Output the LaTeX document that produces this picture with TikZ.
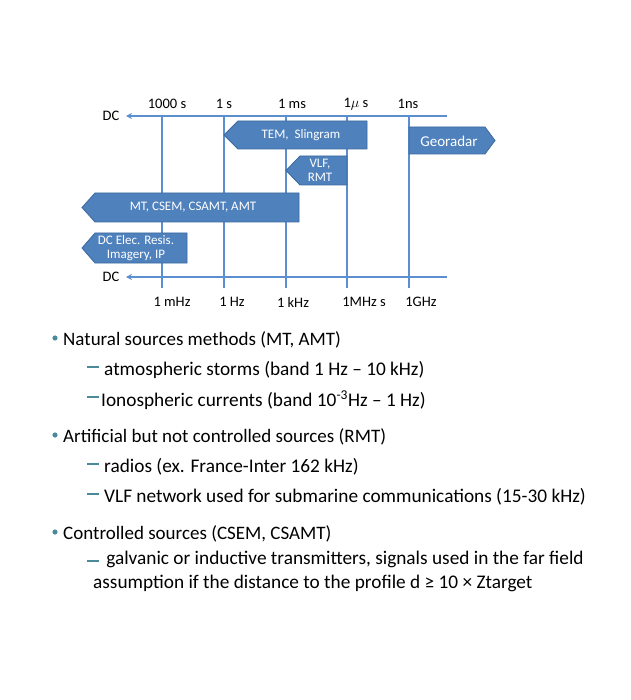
\documentclass[tikz,border=0pt]{standalone}
\usepackage{fontspec}
\setmainfont{Carlito}
\usetikzlibrary{arrows.meta}
\definecolor{ax}{HTML}{5B8FCF}
\definecolor{bf}{HTML}{4F81BD}
\definecolor{bd}{HTML}{3A6A9E}
\definecolor{bul}{HTML}{4A8A9A}
\tikzset{axis/.style={ax,line width=1.6pt,-{Stealth[length=6pt,width=6pt]}},
 vline/.style={ax,line width=1.2pt},
 lab/.style={font=\fontsize{14.5}{16}\selectfont,inner sep=0pt},
 band/.style={fill=bf,draw=bd,line width=0.8pt},
 btxt/.style={font=\fontsize{13}{14.5}\selectfont,text=white,align=center,inner sep=0pt},
 main/.style={font=\fontsize{19}{22}\selectfont,anchor=west,inner sep=0pt},
 sub/.style={font=\fontsize{19.3}{24}\selectfont,anchor=west,inner sep=0pt,align=left}}
\begin{document}
\begin{tikzpicture}[x=1pt,y=-1pt]
\useasboundingbox (0,0) rectangle (630,700);
\foreach \x/\n in {162/a,224/b,286/c,347/d,409/e}{\draw[vline] (\x,116) -- (\x,288);}
\coordinate (t1) at (447,116); \coordinate (t0) at (126,116);
\coordinate (b1) at (447,277); \coordinate (b0) at (126,277);
\draw[axis] (t1) -- (t0);
\draw[axis] (b1) -- (b0);
\node[lab] (dct) at (111,116) {DC};
\node[lab] (dcb) at (111,277) {DC};
\node[lab] (l1) at (167,104) {1000 s};
\node[lab] (l2) at (224,104) {1 s};
\node[lab] (l3) at (292,104) {1 ms};
\node[lab] (l4) at (356,104) {1$\mu$ s};
\node[lab] (l5) at (408,104) {1ns};
\node[lab] (m1) at (172,302) {1 mHz};
\node[lab] (m2) at (232,302) {1 Hz};
\node[lab] (m3) at (293,302) {1 kHz};
\node[lab] (m4) at (364,302) {1MHz s};
\node[lab] (m5) at (421,302) {1GHz};
\draw[band] (224,135) -- (238,121) -- (367,121) -- (367,149) -- (238,149) -- cycle;
\node[btxt] (tem) at (301,135) {TEM,\ \ Slingram};
\draw[band] (409,127) -- (485,127) -- (495,140.5) -- (485,154) -- (409,154) -- cycle;
\node[btxt,font=\fontsize{15}{16}\selectfont] (geo) at (449,141) {Georadar};
\draw[band] (286,170.5) -- (300,156) -- (347,156) -- (347,185) -- (300,185) -- cycle;
\node[btxt] (vlf) at (320,170.5) {VLF,\\RMT};
\draw[band] (82,207.5) -- (95,193) -- (299,193) -- (299,222) -- (95,222) -- cycle;
\node[btxt] (mt) at (193,207.5) {MT, CSEM, CSAMT, AMT};
\draw[band] (82,248) -- (95,233) -- (187,233) -- (187,263) -- (95,263) -- cycle;
\node[btxt] (dce) at (136,248) {DC Elec. Resis.\\Imagery, IP};
\foreach \y in {338,435,532}{\fill[bul] (55,\y) circle (2.6);}
\foreach \y in {367,397,464,494,561}{\draw[bul,line width=1.2pt] (87,\y) -- (99,\y);}
\node[main] (n1) at (63,340) {Natural sources methods (MT, AMT)};
\node[sub] (s1) at (104,370) {atmospheric storms (band 1 Hz – 10 kHz)};
\node[sub] (s2) at (101,400) {Ionospheric currents (band 10\textsuperscript{-3}Hz – 1 Hz)};
\node[main] (n2) at (63,437) {Artificial but not controlled sources (RMT)};
\node[sub] (s3) at (104,467) {radios (ex. France-Inter 162 kHz)};
\node[sub] (s4) at (104,497) {VLF network used for submarine communications (15-30 kHz)};
\node[main] (n3) at (63,534) {Controlled sources (CSEM, CSAMT)};
\node[sub,anchor=north west] (s5) at (93,551) {\ \ \ galvanic or inductive transmitters, signals used in the far field\\assumption if the distance to the profile d ≥ 10 × Ztarget};
\end{tikzpicture}
\end{document}
